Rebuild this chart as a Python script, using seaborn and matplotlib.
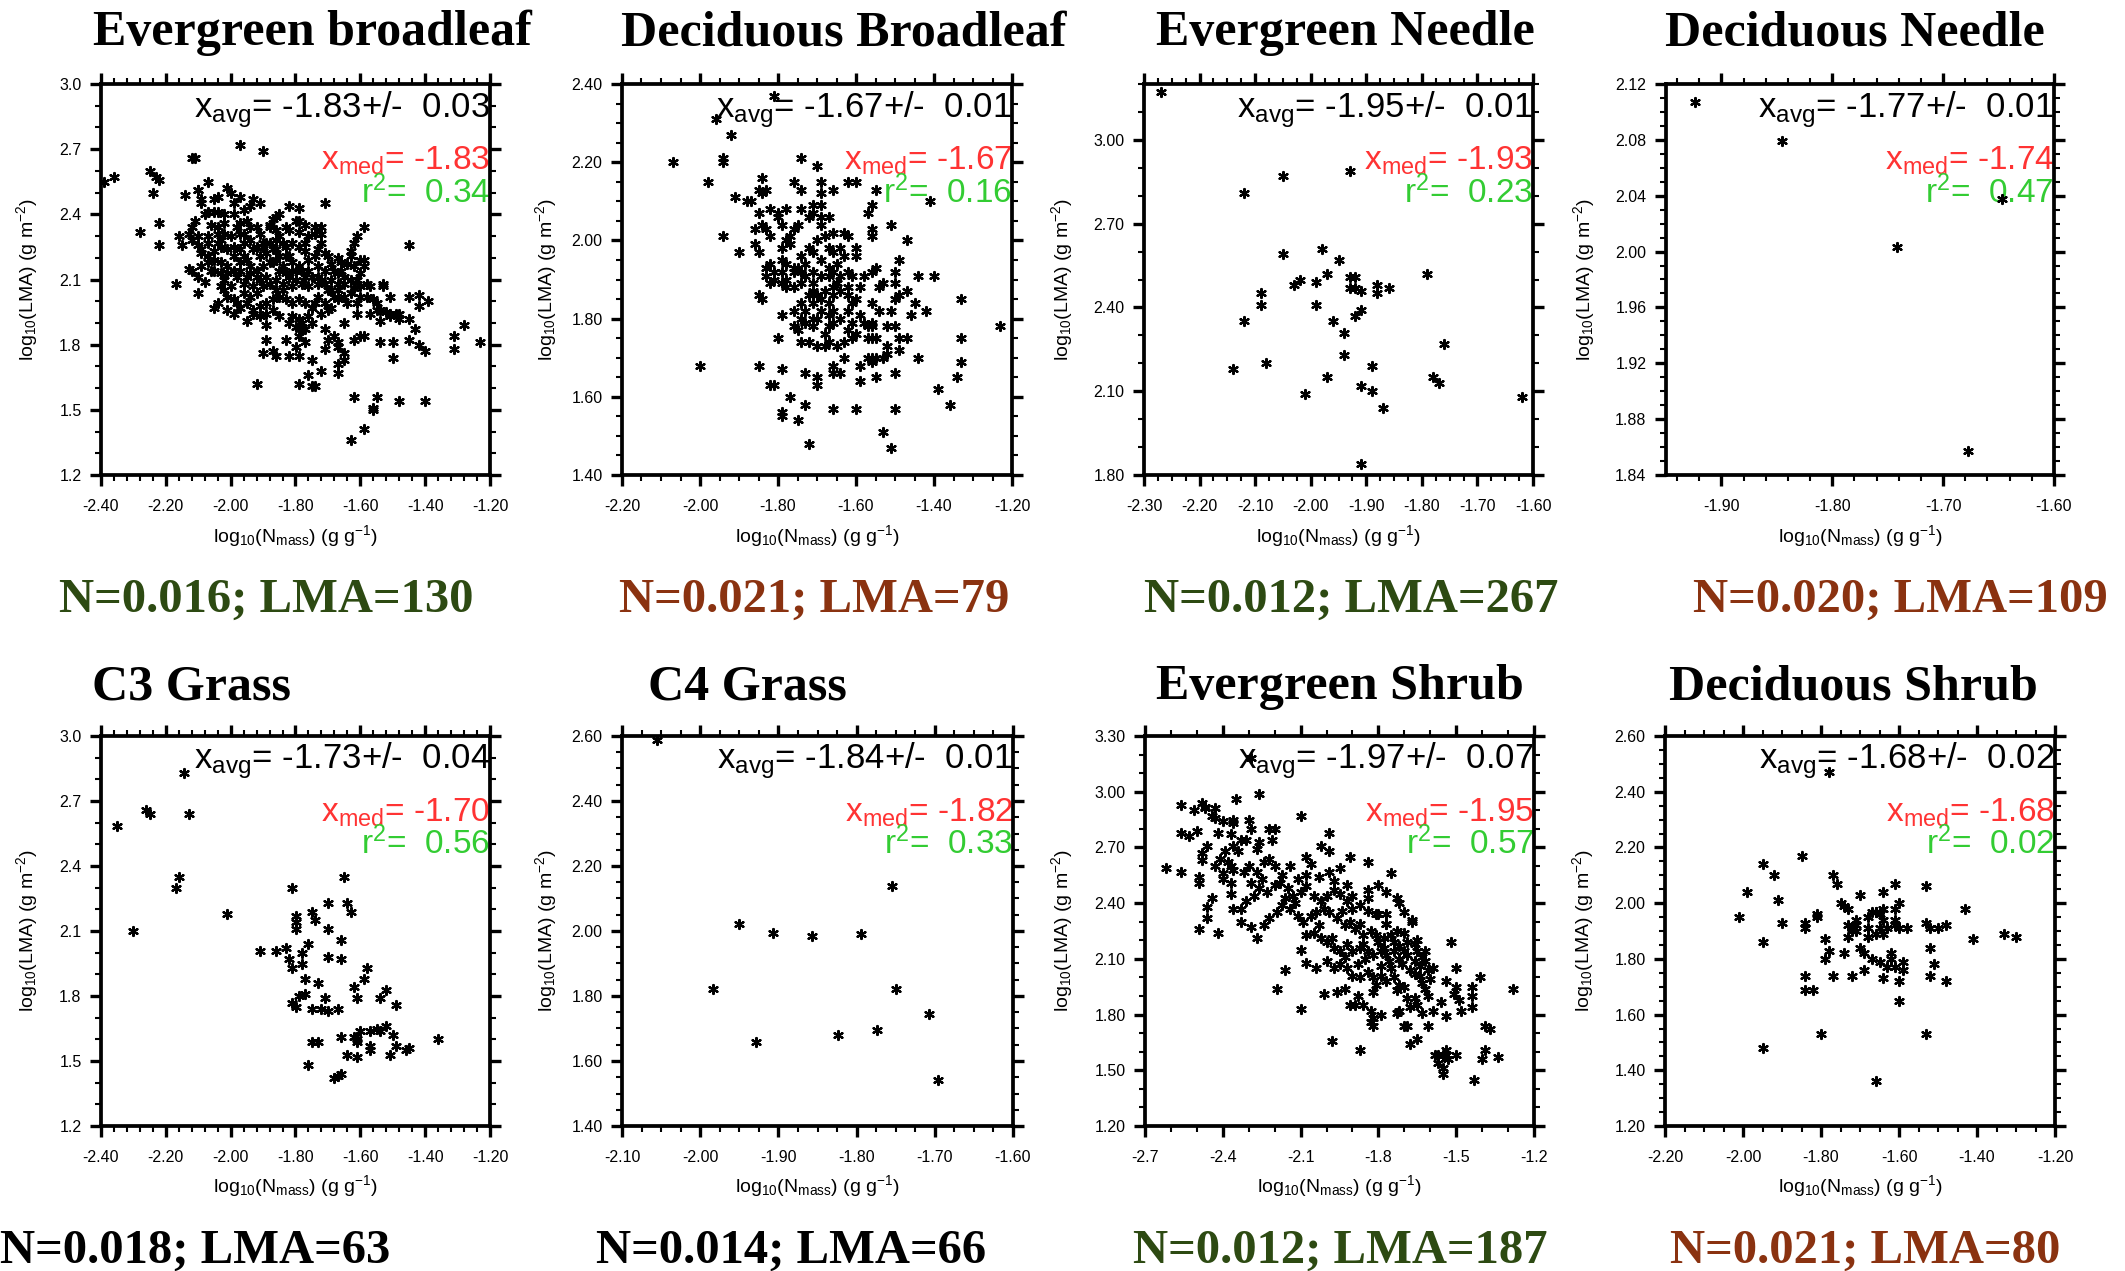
import numpy as np
import pandas as pd
import matplotlib
matplotlib.use("Agg")
import matplotlib.pyplot as plt
import seaborn as sns
from matplotlib.ticker import MultipleLocator, AutoMinorLocator, FormatStrFormatter

sns.set_theme(style="ticks")
plt.rcParams["font.family"] = ["Liberation Sans", "DejaVu Sans"]
plt.rcParams["mathtext.fontset"] = "custom"
plt.rcParams["mathtext.rm"] = "Liberation Sans"
plt.rcParams["mathtext.it"] = "Liberation Sans:italic"
plt.rcParams["mathtext.bf"] = "Liberation Sans:bold"

# ---------------------------------------------------------------- data
titles = ["Evergreen broadleaf", "Deciduous Broadleaf", "Evergreen Needle", "Deciduous Needle",
          "C3 Grass", "C4 Grass", "Evergreen Shrub", "Deciduous Shrub"]
x_avg = ["-1.83", "-1.67", "-1.95", "-1.77", "-1.73", "-1.84", "-1.97", "-1.68"]
x_err = ["0.03", "0.01", "0.01", "0.01", "0.04", "0.01", "0.07", "0.02"]
x_med = ["-1.83", "-1.67", "-1.93", "-1.74", "-1.70", "-1.82", "-1.95", "-1.68"]
r_sq = ["0.34", "0.16", "0.23", "0.47", "0.56", "0.33", "0.57", "0.02"]
n_opt = ["0.016", "0.021", "0.012", "0.020", "0.018", "0.014", "0.012", "0.021"]
lma_opt = ["130", "79", "267", "109", "63", "66", "187", "80"]

# log10(Nmass), log10(LMA) pairs for each plant functional type
evergreen_broadleaf = [
    (-2.39, 2.55), (-2.36, 2.57), (-2.28, 2.32), (-2.25, 2.60), (-2.24, 2.50), (-2.23, 2.57), (-2.22, 2.56),
    (-2.22, 2.36), (-2.22, 2.26), (-2.17, 2.08), (-2.16, 2.30), (-2.15, 2.26), (-2.14, 2.49), (-2.12, 2.66),
    (-2.11, 2.66), (-2.13, 2.31), (-2.10, 2.04), (-2.10, 2.51), (-2.07, 2.55), (-2.05, 1.97), (-1.97, 2.72),
    (-1.90, 2.69), (-1.92, 1.62), (-1.71, 2.45), (-1.45, 2.26), (-1.63, 1.36), (-1.59, 1.41), (-1.62, 1.56),
    (-1.55, 1.56), (-1.56, 1.51), (-1.56, 1.50), (-1.48, 1.54), (-1.40, 1.54), (-1.31, 1.84), (-1.31, 1.78),
    (-1.28, 1.89), (-1.23, 1.81), (-1.40, 1.77), (-1.50, 1.74), (-1.50, 1.81), (-1.54, 1.81), (-1.39, 2.00),
    (-1.42, 2.03), (-1.45, 2.02), (-1.42, 1.98), (-1.43, 1.87), (-1.45, 1.82), (-1.42, 1.80), (-1.51, 2.02),
    (-1.48, 1.94), (-1.45, 1.92), (-1.59, 2.34), (-1.61, 2.30), (-1.62, 2.27), (-1.59, 2.19), (-1.59, 2.16),
    (-1.62, 2.16), (-1.64, 2.17), (-1.53, 2.08), (-1.53, 2.07), (-1.57, 2.07), (-1.58, 2.02), (-1.60, 2.02),
    (-1.61, 1.99), (-1.63, 2.10), (-1.61, 1.94), (-1.57, 1.94), (-1.54, 1.91), (-1.51, 1.93), (-1.60, 1.84),
    (-1.59, 1.84), (-1.62, 1.82), (-1.67, 1.81), (-1.67, 1.79), (-1.65, 1.76), (-1.67, 1.71), (-1.67, 1.67),
    (-1.65, 1.73), (-1.72, 1.68), (-1.75, 1.73), (-1.76, 1.66), (-1.75, 1.61), (-1.74, 1.61), (-1.79, 1.62),
    (-1.79, 1.75), (-1.82, 1.75), (-1.86, 1.75), (-1.90, 1.76), (-1.87, 1.77), (-1.89, 1.82), (-1.83, 1.82),
    (-1.80, 1.79), (-1.79, 1.84), (-1.77, 1.81), (-1.89, 1.89), (-1.95, 1.91), (-1.79, 1.88), (-1.78, 1.87),
    (-1.71, 1.78), (-1.70, 1.82), (-1.68, 1.84), (-1.75, 1.97), (-1.65, 1.90), (-1.71, 1.87), (-1.70, 1.96),
    (-2.10, 2.51), (-2.09, 2.47), (-2.09, 2.45), (-2.05, 2.47), (-2.04, 2.48), (-2.01, 2.52), (-2.00, 2.50),
    (-1.99, 2.45), (-1.97, 2.48), (-1.96, 2.42), (-1.94, 2.44), (-1.93, 2.47), (-1.91, 2.45), (-2.08, 2.40),
    (-2.07, 2.41), (-2.05, 2.41), (-2.04, 2.41), (-2.02, 2.40), (-1.99, 2.40), (-2.06, 2.35), (-2.04, 2.34),
    (-2.02, 2.36), (-2.11, 2.37), (-2.12, 2.34), (-2.10, 2.26), (-2.10, 2.30), (-2.09, 2.22), (-2.07, 2.30),
    (-2.07, 2.27), (-2.05, 2.23), (-2.04, 2.31), (-2.03, 2.28), (-2.02, 2.31), (-2.00, 2.30), (-1.98, 2.34),
    (-1.97, 2.36), (-1.97, 2.31), (-1.96, 2.27), (-1.95, 2.37), (-1.94, 2.34), (-1.92, 2.34), (-1.91, 2.31),
    (-1.90, 2.27), (-1.89, 2.27), (-1.88, 2.35), (-1.87, 2.38), (-1.86, 2.39), (-1.85, 2.40), (-1.83, 2.34),
    (-1.82, 2.44), (-1.79, 2.43), (-1.80, 2.37), (-1.79, 2.32), (-1.76, 2.30), (-1.74, 2.31), (-1.72, 2.34),
    (-1.72, 2.27), (-1.73, 2.24), (-1.74, 2.21), (-1.71, 2.22), (-1.70, 2.21), (-1.69, 2.17), (-1.67, 2.20),
    (-1.66, 2.14), (-1.67, 2.13), (-1.69, 2.10), (-1.71, 2.14), (-1.73, 2.16), (-1.76, 2.19), (-1.77, 2.23),
    (-1.77, 2.27), (-1.79, 2.25), (-1.81, 2.27), (-1.83, 2.25), (-1.85, 2.30), (-1.86, 2.28), (-1.87, 2.24),
    (-1.89, 2.22), (-1.91, 2.21), (-1.93, 2.24), (-1.95, 2.19), (-1.97, 2.18), (-1.99, 2.21), (-2.01, 2.16),
    (-2.03, 2.13), (-2.05, 2.14), (-2.07, 2.18), (-2.09, 2.16), (-2.12, 2.14), (-2.13, 2.15), (-2.10, 2.11),
    (-2.08, 2.09), (-2.02, 2.10), (-2.00, 2.07), (-1.98, 2.11), (-1.96, 2.08), (-1.94, 2.13), (-1.92, 2.14),
    (-1.90, 2.16), (-1.88, 2.18), (-1.86, 2.19), (-1.84, 2.16), (-1.82, 2.21), (-1.81, 2.14), (-1.79, 2.16),
    (-1.77, 2.11), (-1.75, 2.11), (-1.72, 2.10), (-1.70, 2.05), (-1.68, 2.02), (-1.67, 2.01), (-1.69, 1.97),
    (-1.71, 1.99), (-1.73, 2.02), (-1.76, 2.07), (-1.78, 2.08), (-1.80, 2.10), (-1.82, 2.11), (-1.84, 2.08),
    (-1.86, 2.05), (-1.88, 2.08), (-1.90, 2.07), (-1.92, 2.04), (-1.94, 2.02), (-1.96, 2.04), (-1.98, 1.99),
    (-1.99, 2.01), (-2.01, 2.02), (-2.02, 2.05), (-2.03, 2.07), (-2.04, 1.99), (-2.01, 1.96), (-1.99, 1.94),
    (-1.97, 1.97), (-1.95, 1.99), (-1.93, 1.96), (-1.91, 1.98), (-1.89, 1.99), (-1.87, 2.01), (-1.85, 2.02),
    (-1.83, 2.01), (-1.81, 1.99), (-1.79, 2.01), (-1.77, 1.99), (-1.74, 1.99), (-1.72, 1.94), (-1.81, 1.93),
    (-1.82, 1.90), (-1.80, 1.88), (-1.78, 1.90), (-1.85, 1.93), (-1.87, 1.96), (-1.89, 1.94), (-1.91, 1.93),
    (-1.93, 1.94), (-1.65, 2.02), (-1.64, 1.99), (-1.65, 2.08), (-1.63, 2.04), (-1.62, 2.06), (-1.61, 2.10),
    (-1.60, 2.07), (-1.60, 2.13), (-1.58, 2.08), (-1.56, 2.01), (-1.55, 1.99), (-1.55, 1.96), (-1.54, 1.96),
    (-1.52, 1.95), (-1.51, 1.94), (-1.49, 1.94), (-1.48, 1.92), (-1.63, 2.21), (-1.63, 2.23), (-1.60, 2.19),
    (-1.66, 2.18), (-1.68, 2.14), (-1.65, 2.11), (-1.67, 2.05), (-1.69, 2.05), (-1.71, 2.08), (-1.73, 2.08),
    (-1.81, 2.07), (-1.84, 2.05), (-1.86, 2.10), (-1.89, 2.11), (-1.91, 2.10), (-1.93, 2.07), (-1.95, 2.11),
    (-1.97, 2.14), (-1.99, 2.14), (-2.01, 2.13), (-2.03, 2.18), (-2.05, 2.19), (-2.07, 2.21), (-2.09, 2.24),
    (-2.12, 2.28), (-2.06, 2.14), (-1.88, 2.34), (-1.86, 2.33), (-1.84, 2.27), (-1.82, 2.33), (-1.79, 2.37),
    (-1.77, 2.35), (-1.74, 2.34), (-1.72, 2.31), (-1.83, 2.21), (-1.85, 2.21), (-1.87, 2.18), (-1.92, 2.11),
    (-1.94, 2.16), (-1.96, 2.21), (-1.97, 2.24), (-1.99, 2.25), (-2.01, 2.24), (-2.03, 2.25), (-2.04, 2.27),
    (-1.96, 2.31), (-1.94, 2.28), (-1.92, 2.25), (-1.90, 2.25), (-1.88, 2.27), (-1.86, 2.24), (-1.85, 2.14),
    (-1.83, 2.13), (-1.81, 2.18), (-1.80, 2.14), (-1.78, 2.14), (-1.76, 2.14), (-1.73, 2.11), (-1.67, 2.08),
    (-1.76, 1.93), (-1.75, 1.90), (-1.79, 1.92), (-1.77, 1.87),
]

deciduous_broadleaf = [
    (-1.81, 2.37), (-1.96, 2.31), (-1.92, 2.27), (-2.07, 2.20), (-1.98, 2.15), (-1.94, 2.21), (-1.94, 2.20),
    (-1.91, 2.11), (-1.88, 2.10), (-1.87, 2.10), (-1.94, 2.01), (-1.90, 1.97), (-2.00, 1.68), (-1.85, 1.68),
    (-1.84, 2.16), (-1.85, 2.13), (-1.84, 2.12), (-1.83, 2.13), (-1.74, 2.21), (-1.70, 2.19), (-1.76, 2.15),
    (-1.74, 2.13), (-1.69, 2.15), (-1.69, 2.12), (-1.66, 2.13), (-1.62, 2.15), (-1.60, 2.15), (-1.55, 2.13),
    (-1.56, 2.09), (-1.41, 2.10), (-1.57, 2.07), (-1.51, 2.04), (-1.47, 2.00), (-1.56, 2.03), (-1.56, 2.01),
    (-1.49, 1.95), (-1.44, 1.91), (-1.40, 1.91), (-1.33, 1.85), (-1.33, 1.75), (-1.33, 1.69), (-1.34, 1.65),
    (-1.23, 1.78), (-1.39, 1.62), (-1.36, 1.58), (-1.42, 1.82), (-1.44, 1.70), (-1.47, 1.75), (-1.46, 1.81),
    (-1.45, 1.84), (-1.47, 1.87), (-1.50, 1.92), (-1.50, 1.89), (-1.49, 1.86), (-1.49, 1.75), (-1.49, 1.72),
    (-1.50, 1.66), (-1.50, 1.57), (-1.51, 1.47), (-1.53, 1.51), (-1.60, 1.57), (-1.66, 1.57), (-1.72, 1.48),
    (-1.73, 1.58), (-1.75, 1.54), (-1.77, 1.60), (-1.79, 1.55), (-1.79, 1.56), (-1.82, 1.63), (-1.81, 1.63),
    (-1.79, 1.67), (-1.80, 1.75), (-1.79, 1.81), (-1.85, 1.86), (-1.84, 1.85), (-1.73, 1.66), (-1.70, 1.65),
    (-1.70, 1.63), (-1.66, 1.68), (-1.66, 1.66), (-1.64, 1.66), (-1.63, 1.70), (-1.59, 1.68), (-1.59, 1.64),
    (-1.55, 1.65), (-1.55, 1.70), (-1.55, 1.75), (-1.52, 1.73), (-1.52, 1.71), (-1.53, 1.70), (-1.52, 1.78),
    (-1.50, 1.78), (-1.51, 1.82), (-1.50, 1.85), (-1.54, 1.82), (-1.56, 1.79), (-1.56, 1.84), (-1.54, 1.88),
    (-1.53, 1.89), (-1.56, 1.92), (-1.55, 1.93), (-1.60, 1.96), (-1.58, 1.91), (-1.59, 1.88), (-1.60, 1.85),
    (-1.59, 1.81), (-1.61, 1.79), (-1.62, 1.77), (-1.63, 1.74), (-1.65, 1.73), (-1.67, 1.74), (-1.68, 1.73),
    (-1.70, 1.73), (-1.72, 1.74), (-1.74, 1.74), (-1.75, 1.77), (-1.76, 1.78), (-1.74, 1.80), (-1.76, 1.82),
    (-1.74, 1.84), (-1.73, 1.82), (-1.71, 1.84), (-1.69, 1.85), (-1.67, 1.84), (-1.66, 1.86), (-1.64, 1.87),
    (-1.62, 1.88), (-1.61, 1.91), (-1.62, 1.92), (-1.64, 1.91), (-1.66, 1.92), (-1.67, 1.93), (-1.69, 1.95),
    (-1.71, 1.97), (-1.72, 1.98), (-1.70, 2.00), (-1.68, 2.01), (-1.66, 2.02), (-1.63, 2.02), (-1.62, 2.01),
    (-1.60, 1.98), (-1.64, 1.98), (-1.66, 1.97), (-1.67, 1.98), (-1.69, 2.04), (-1.67, 2.06), (-1.69, 2.06),
    (-1.71, 2.07), (-1.72, 2.06), (-1.71, 2.09), (-1.69, 2.09), (-1.74, 2.08), (-1.75, 2.04), (-1.76, 2.03),
    (-1.77, 2.01), (-1.78, 2.00), (-1.77, 1.99), (-1.79, 2.04), (-1.80, 2.07), (-1.78, 2.08), (-1.80, 2.06),
    (-1.82, 2.08), (-1.84, 2.04), (-1.83, 2.03), (-1.82, 2.01), (-1.85, 2.07), (-1.86, 1.99), (-1.85, 1.97),
    (-1.86, 2.03), (-1.79, 1.98), (-1.79, 1.95), (-1.78, 1.94), (-1.76, 1.93), (-1.82, 1.94), (-1.83, 1.93),
    (-1.81, 1.92), (-1.79, 1.92), (-1.78, 1.90), (-1.76, 1.92), (-1.74, 1.92), (-1.73, 1.91), (-1.71, 1.89),
    (-1.74, 1.89), (-1.76, 1.88), (-1.78, 1.88), (-1.79, 1.89), (-1.81, 1.90), (-1.82, 1.89), (-1.83, 1.91),
    (-1.72, 1.86), (-1.71, 1.87), (-1.70, 1.86), (-1.68, 1.87), (-1.66, 1.88), (-1.65, 1.89), (-1.73, 1.94),
    (-1.74, 1.96), (-1.75, 1.93), (-1.71, 1.92), (-1.69, 1.91), (-1.67, 1.91), (-1.65, 1.94), (-1.63, 1.96),
    (-1.69, 1.82), (-1.67, 1.81), (-1.66, 1.82), (-1.64, 1.80), (-1.66, 1.79), (-1.67, 1.78), (-1.68, 1.76),
    (-1.71, 1.78), (-1.73, 1.79), (-1.62, 1.82), (-1.61, 1.84), (-1.62, 1.86), (-1.58, 1.79), (-1.57, 1.78),
    (-1.60, 1.76), (-1.57, 1.75), (-1.56, 1.78), (-1.56, 1.75), (-1.56, 1.70), (-1.56, 1.69), (-1.57, 1.70),
    (-1.61, 1.75), (-1.71, 1.80), (-1.70, 1.80),
]

evergreen_needle = [
    (-2.27, 3.17), (-2.12, 2.81), (-2.05, 2.87), (-1.93, 2.89), (-2.05, 2.59), (-1.98, 2.61), (-1.95, 2.57),
    (-1.97, 2.52), (-1.99, 2.49), (-2.02, 2.50), (-2.03, 2.48), (-1.93, 2.51), (-1.92, 2.51), (-1.93, 2.47),
    (-1.92, 2.47), (-1.91, 2.46), (-1.88, 2.48), (-1.88, 2.45), (-1.86, 2.47), (-1.79, 2.52), (-2.09, 2.45),
    (-2.09, 2.41), (-1.99, 2.41), (-1.91, 2.39), (-1.92, 2.37), (-2.12, 2.35), (-1.96, 2.35), (-1.94, 2.31),
    (-1.76, 2.27), (-1.94, 2.23), (-2.14, 2.18), (-2.08, 2.20), (-1.89, 2.19), (-1.97, 2.15), (-1.78, 2.15),
    (-1.77, 2.13), (-1.91, 2.12), (-2.01, 2.09), (-1.89, 2.10), (-1.87, 2.04), (-1.62, 2.08), (-1.91, 1.84),
]

deciduous_needle = [
    (-1.924, 2.107), (-1.845, 2.079), (-1.742, 2.003), (-1.647, 2.038), (-1.678, 1.857),
]

c3_grass = [
    (-2.35, 2.585), (-2.30, 2.10), (-2.26, 2.66), (-2.25, 2.64), (-2.145, 2.83), (-2.13, 2.64), (-2.17, 2.30),
    (-2.16, 2.35), (-2.01, 2.18), (-1.91, 2.01), (-1.86, 2.01), (-1.83, 2.02), (-1.82, 1.97), (-1.81, 1.93),
    (-1.81, 2.30), (-1.80, 2.17), (-1.80, 2.14), (-1.80, 2.11), (-1.78, 2.00), (-1.78, 1.95), (-1.76, 2.04),
    (-1.75, 2.19), (-1.74, 2.15), (-1.70, 2.23), (-1.70, 2.11), (-1.70, 1.98), (-1.66, 1.97), (-1.66, 2.06),
    (-1.65, 2.35), (-1.64, 2.23), (-1.63, 2.19), (-1.77, 1.88), (-1.73, 1.86), (-1.77, 1.81), (-1.79, 1.80),
    (-1.81, 1.77), (-1.80, 1.75), (-1.75, 1.74), (-1.72, 1.74), (-1.70, 1.73), (-1.71, 1.79), (-1.67, 1.74),
    (-1.58, 1.93), (-1.59, 1.88), (-1.62, 1.84), (-1.61, 1.79), (-1.54, 1.79), (-1.52, 1.83), (-1.49, 1.76),
    (-1.75, 1.59), (-1.73, 1.59), (-1.76, 1.48), (-1.68, 1.42), (-1.67, 1.43), (-1.66, 1.44), (-1.66, 1.61),
    (-1.64, 1.53), (-1.61, 1.52), (-1.62, 1.61), (-1.61, 1.60), (-1.61, 1.59), (-1.60, 1.64), (-1.57, 1.57),
    (-1.57, 1.55), (-1.57, 1.64), (-1.55, 1.65), (-1.54, 1.64), (-1.52, 1.66), (-1.51, 1.53), (-1.50, 1.62),
    (-1.49, 1.57), (-1.46, 1.55), (-1.45, 1.56), (-1.36, 1.60),
]

c4_grass = [
    (-2.055, 2.587), (-1.983, 1.823), (-1.951, 2.023), (-1.929, 1.658), (-1.907, 1.993), (-1.857, 1.985),
    (-1.824, 1.681), (-1.794, 1.990), (-1.774, 1.694), (-1.755, 2.138), (-1.750, 1.823), (-1.708, 1.745),
    (-1.696, 1.541),
]

evergreen_shrub = [
    (-2.29, 3.18), (-2.26, 2.99), (-2.35, 2.96), (-2.56, 2.93), (-2.48, 2.94), (-2.47, 2.92), (-2.51, 2.90),
    (-2.47, 2.91), (-2.43, 2.91), (-2.44, 2.87), (-2.43, 2.86), (-2.40, 2.84), (-2.36, 2.85), (-2.36, 2.83),
    (-2.30, 2.85), (-2.29, 2.80), (-2.10, 2.87), (-2.56, 2.78), (-2.53, 2.76), (-2.50, 2.79), (-2.42, 2.78),
    (-2.37, 2.77), (-2.22, 2.80), (-2.20, 2.80), (-2.21, 2.74), (-1.99, 2.78), (-2.62, 2.59), (-2.56, 2.57),
    (-2.48, 2.67), (-2.48, 2.63), (-2.46, 2.71), (-2.41, 2.64), (-2.39, 2.68), (-2.36, 2.71), (-2.33, 2.74),
    (-2.31, 2.74), (-2.34, 2.68), (-2.26, 2.73), (-2.27, 2.69), (-2.02, 2.71), (-1.99, 2.68), (-1.91, 2.65),
    (-1.84, 2.62), (-1.75, 2.56), (-2.08, 2.65), (-2.06, 2.61), (-2.49, 2.54), (-2.49, 2.51), (-2.46, 2.38),
    (-2.44, 2.43), (-2.46, 2.32), (-2.49, 2.26), (-2.42, 2.24), (-2.40, 2.56), (-2.40, 2.53), (-2.37, 2.60),
    (-2.36, 2.58), (-2.37, 2.51), (-2.37, 2.45), (-2.36, 2.37), (-2.32, 2.57), (-2.29, 2.51), (-2.27, 2.57),
    (-2.24, 2.62), (-2.22, 2.64), (-2.20, 2.60), (-2.17, 2.55), (-2.14, 2.60), (-2.11, 2.53), (-2.08, 2.55),
    (-2.03, 2.54), (-1.99, 2.57), (-1.95, 2.59), (-1.97, 2.52), (-1.92, 2.50), (-1.90, 2.44), (-1.84, 2.47),
    (-1.84, 2.43), (-1.80, 2.50), (-1.77, 2.46), (-1.73, 2.43), (-1.72, 2.40), (-1.70, 2.35), (-1.67, 2.30),
    (-1.70, 2.24), (-1.73, 2.25), (-1.77, 2.29), (-1.81, 2.34), (-1.84, 2.36), (-1.87, 2.39), (-1.90, 2.37),
    (-1.92, 2.41), (-1.95, 2.45), (-1.97, 2.47), (-2.00, 2.44), (-2.02, 2.41), (-2.05, 2.44), (-2.08, 2.49),
    (-2.10, 2.46), (-2.13, 2.44), (-2.15, 2.48), (-2.18, 2.51), (-2.20, 2.50), (-2.23, 2.46), (-2.26, 2.48),
    (-2.28, 2.44), (-2.31, 2.41), (-2.33, 2.37), (-2.33, 2.30), (-2.29, 2.27), (-2.27, 2.21), (-2.24, 2.28),
    (-2.22, 2.32), (-2.19, 2.35), (-2.17, 2.39), (-2.14, 2.37), (-2.11, 2.33), (-2.09, 2.30), (-2.06, 2.33),
    (-2.04, 2.35), (-2.01, 2.37), (-1.99, 2.35), (-1.96, 2.32), (-1.93, 2.28), (-1.91, 2.30), (-1.89, 2.26),
    (-1.86, 2.23), (-1.83, 2.25), (-1.81, 2.23), (-1.78, 2.21), (-1.75, 2.23), (-1.74, 2.19), (-1.72, 2.17),
    (-1.69, 2.19), (-1.66, 2.18), (-1.65, 2.14), (-1.62, 2.14), (-1.62, 2.09), (-1.64, 2.06), (-1.64, 2.01),
    (-1.61, 2.04), (-1.66, 2.09), (-1.69, 2.12), (-1.72, 2.10), (-1.74, 2.14), (-1.77, 2.12), (-1.79, 2.14),
    (-1.82, 2.12), (-1.84, 2.14), (-1.87, 2.16), (-1.90, 2.14), (-1.92, 2.18), (-1.95, 2.14), (-1.97, 2.16),
    (-2.00, 2.19), (-2.02, 2.21), (-2.05, 2.24), (-2.08, 2.23), (-2.10, 2.15), (-2.08, 2.08), (-2.04, 2.05),
    (-2.00, 2.09), (-1.97, 2.05), (-1.95, 2.07), (-1.92, 2.05), (-1.90, 2.01), (-1.87, 2.00), (-1.84, 2.03),
    (-1.82, 2.00), (-1.79, 2.01), (-1.77, 1.98), (-1.74, 2.00), (-1.72, 1.96), (-1.73, 1.93), (-1.70, 1.95),
    (-1.69, 1.89), (-1.66, 1.89), (-1.65, 1.85), (-1.68, 1.84), (-1.72, 1.82), (-1.70, 1.74), (-1.69, 1.74),
    (-1.68, 1.64), (-1.65, 1.67), (-1.61, 1.74), (-1.63, 1.81), (-1.61, 1.90), (-1.59, 1.82), (-1.56, 1.87),
    (-1.54, 1.98), (-1.54, 1.79), (-1.52, 2.19), (-1.50, 2.05), (-1.50, 1.95), (-1.51, 1.91), (-1.49, 1.88),
    (-1.48, 1.82), (-1.44, 1.95), (-1.44, 1.90), (-1.44, 1.84), (-1.41, 2.00), (-1.28, 1.94), (-1.39, 1.74),
    (-1.37, 1.72), (-1.39, 1.61), (-1.40, 1.56), (-1.34, 1.57), (-1.43, 1.45), (-1.50, 1.58), (-1.54, 1.61),
    (-1.53, 1.56), (-1.58, 1.58), (-1.57, 1.58), (-1.57, 1.54), (-1.55, 1.51), (-1.55, 1.48), (-1.55, 1.58),
    (-1.54, 1.58), (-1.87, 1.61), (-1.98, 1.66), (-2.10, 1.83), (-2.19, 1.94), (-2.16, 2.04), (-2.01, 1.91),
    (-1.96, 1.92), (-1.93, 1.94), (-1.91, 1.85), (-1.89, 1.85), (-1.88, 1.90), (-1.86, 1.85), (-1.83, 1.82),
    (-1.82, 1.78), (-1.83, 1.76), (-1.82, 1.74), (-1.79, 1.80), (-1.82, 1.92), (-1.81, 1.96), (-1.73, 1.81),
    (-1.67, 2.31), (-1.65, 2.20), (-1.77, 2.34), (-1.77, 2.29), (-1.80, 2.34),
    (-1.86, 2.18), (-1.85, 2.10), (-1.80, 2.19), (-1.78, 2.16), (-1.76, 2.09), (-1.71, 2.07), (-1.68, 2.04),
    (-1.66, 2.02), (-1.63, 1.97), (-1.62, 1.94), (-1.60, 1.99), (-1.59, 2.05), (-1.63, 2.11), (-1.70, 2.14),
    (-1.75, 2.05), (-1.79, 2.06), (-1.88, 2.07), (-1.93, 2.11), (-1.98, 2.21), (-2.03, 2.28), (-2.12, 2.40),
    (-2.16, 2.43), (-2.25, 2.53), (-2.30, 2.60), (-2.38, 2.62), (-2.43, 2.60), (-1.87, 2.29), (-1.94, 2.36),
]

deciduous_shrub = [
    (-1.78, 2.47), (-2.01, 1.95), (-1.99, 2.04), (-1.95, 2.14), (-1.95, 1.86), (-1.95, 1.48), (-1.92, 2.10),
    (-1.91, 2.01), (-1.90, 1.93), (-1.85, 2.17), (-1.84, 1.93), (-1.84, 1.91), (-1.84, 1.74), (-1.84, 1.69),
    (-1.82, 1.69), (-1.81, 1.96), (-1.81, 1.95), (-1.80, 1.53), (-1.79, 1.80), (-1.79, 1.87), (-1.78, 1.83),
    (-1.77, 2.10), (-1.76, 2.07), (-1.77, 1.74), (-1.75, 2.00), (-1.74, 1.99), (-1.73, 1.98), (-1.74, 1.82),
    (-1.72, 1.74), (-1.73, 1.88), (-1.73, 1.92), (-1.72, 1.91), (-1.71, 1.92), (-1.71, 1.90), (-1.72, 1.90),
    (-1.72, 1.91), (-1.71, 1.94), (-1.70, 2.03), (-1.70, 1.84), (-1.69, 1.76), (-1.69, 1.82), (-1.68, 1.95),
    (-1.68, 1.91), (-1.68, 1.88), (-1.67, 1.80), (-1.67, 1.97), (-1.66, 1.97), (-1.66, 1.97), (-1.65, 1.96),
    (-1.64, 2.04), (-1.64, 1.98), (-1.65, 1.91), (-1.66, 1.89), (-1.64, 1.94), (-1.64, 1.89), (-1.65, 1.79),
    (-1.66, 1.36), (-1.64, 1.73), (-1.63, 1.77), (-1.62, 1.82), (-1.62, 1.80), (-1.63, 1.91), (-1.61, 2.07),
    (-1.61, 1.98), (-1.61, 1.94), (-1.61, 1.92), (-1.60, 1.91), (-1.60, 2.00), (-1.61, 1.77), (-1.60, 1.72),
    (-1.60, 1.65), (-1.59, 1.76), (-1.59, 1.79), (-1.58, 1.91), (-1.53, 2.06), (-1.53, 1.53), (-1.53, 1.93),
    (-1.52, 1.84), (-1.52, 1.74), (-1.52, 1.91), (-1.51, 1.78), (-1.50, 1.91), (-1.48, 1.92), (-1.48, 1.72),
    (-1.43, 1.98), (-1.41, 1.87), (-1.33, 1.89), (-1.30, 1.88),
]

panel_points = [evergreen_broadleaf, deciduous_broadleaf, evergreen_needle, deciduous_needle,
                c3_grass, c4_grass, evergreen_shrub, deciduous_shrub]

# axis limits, major step, minor subdivisions and label format per panel
x_limits = [(-2.4, -1.2), (-2.2, -1.2), (-2.3, -1.6), (-1.95, -1.60),
            (-2.4, -1.2), (-2.1, -1.6), (-2.7, -1.2), (-2.2, -1.2)]
x_steps = [0.2, 0.2, 0.1, 0.1, 0.2, 0.1, 0.3, 0.2]
x_minor = [5, 4, 4, 5, 5, 4, 3, 4]
x_fmts = ["%.2f", "%.2f", "%.2f", "%.2f", "%.2f", "%.2f", "%.1f", "%.2f"]
y_limits = [(1.2, 3.0), (1.4, 2.4), (1.8, 3.2), (1.84, 2.12),
            (1.2, 3.0), (1.4, 2.6), (1.2, 3.3), (1.2, 2.6)]
y_steps = [0.3, 0.2, 0.3, 0.04, 0.3, 0.2, 0.3, 0.2]
y_minor = [3, 4, 3, 4, 3, 4, 3, 4]
y_fmts = ["%.1f", "%.2f", "%.2f", "%.2f", "%.1f", "%.2f", "%.2f", "%.2f"]

footer_colors = ["#2d4a12", "#8a3210", "#2d4a12", "#8a3210",
                 "black", "black", "#2d4a12", "#8a3210"]

# ---------------------------------------------------------------- layout (pixels)
W, H = 2125, 1271
boxes = [(101, 84, 490, 475), (622, 84, 1012, 475), (1144, 84, 1533, 475), (1666, 84, 2054, 475),
         (101, 736, 490, 1126), (622, 736, 1013, 1126), (1145, 736, 1534, 1126), (1665, 736, 2055, 1126)]
title_left = [93, 621, 1156, 1665, 92, 648, 1156, 1669]
title_base = [45, 45, 45, 45, 699, 699, 699, 699]
footer_center = [266, 814, 1351, 1900, 195, 791, 1340, 1865]
footer_base = [612, 612, 612, 612, 1263, 1263, 1263, 1263]
ylabel_right = [40, 559, 1075, 1597, 40, 559, 1075, 1596]

fig = plt.figure(figsize=(W / 100, H / 100), dpi=100)
fig.patch.set_facecolor("white")

xlabel = r"$\mathregular{log_{10}(N_{mass})\ (g\ g^{-1})}$"
ylabel = r"$\mathregular{log_{10}(LMA)\ (g\ m^{-2})}$"

for i in range(8):
    l, t, r, b = boxes[i]
    ax = fig.add_axes([l / W, 1 - b / H, (r - l) / W, (b - t) / H])
    ax.set_facecolor("white")
    df = pd.DataFrame(panel_points[i], columns=["nmass", "lma"])
    sns.scatterplot(data=df, x="nmass", y="lma", ax=ax, marker=(6, 2, 0), s=42,
                    color="black", linewidth=1.6, legend=False, zorder=3)

    ax.set_xlim(*x_limits[i])
    ax.set_ylim(*y_limits[i])
    ax.xaxis.set_major_locator(MultipleLocator(x_steps[i]))
    ax.xaxis.set_minor_locator(AutoMinorLocator(x_minor[i]))
    ax.xaxis.set_major_formatter(FormatStrFormatter(x_fmts[i]))
    ax.yaxis.set_major_locator(MultipleLocator(y_steps[i]))
    ax.yaxis.set_minor_locator(AutoMinorLocator(y_minor[i]))
    ax.yaxis.set_major_formatter(FormatStrFormatter(y_fmts[i]))
    ax.grid(False)

    for sp in ax.spines.values():
        sp.set_visible(True)
        sp.set_linewidth(2.7)
        sp.set_color("black")
        sp.set_zorder(4)
    ax.tick_params(which="both", direction="out", top=True, right=True,
                   labeltop=False, labelright=False, colors="black")
    ax.tick_params(axis="x", which="major", length=8, width=2.4, labelsize=11.5, pad=9)
    ax.tick_params(axis="y", which="major", length=8, width=2.4, labelsize=11.5, pad=6)
    ax.tick_params(which="minor", length=4, width=1.5)

    ax.set_xlabel(xlabel, fontsize=14, color="black")
    ax.set_ylabel(ylabel, fontsize=14, color="black")
    ax.xaxis.set_label_coords(0.5, -0.122)
    ax.yaxis.set_label_coords((ylabel_right[i] - l) / (r - l), 0.5)

    # statistics printed in the upper-right corner
    ax.text(1.0, 0.916, r"$\mathregular{x_{avg}}$= " + x_avg[i] + "+/-  " + x_err[i],
            transform=ax.transAxes, ha="right", va="baseline", fontsize=25,
            color="black", zorder=1)
    ax.text(1.0, 0.78, r"$\mathregular{x_{med}}$= " + x_med[i],
            transform=ax.transAxes, ha="right", va="baseline", fontsize=24,
            color="#ff3333", zorder=1)
    ax.text(1.0, 0.696, r"$\mathregular{r^2}$=  " + r_sq[i],
            transform=ax.transAxes, ha="right", va="baseline", fontsize=24,
            color="#33cc33", zorder=1)

    fig.text(title_left[i] / W, 1 - title_base[i] / H, titles[i], ha="left", va="baseline",
             fontsize=36, fontweight="bold", family=["Liberation Serif", "DejaVu Serif"],
             color="black")
    fig.text(footer_center[i] / W, 1 - footer_base[i] / H,
             "N=" + n_opt[i] + "; LMA=" + lma_opt[i], ha="center", va="baseline",
             fontsize=35, fontweight="bold", family=["Liberation Serif", "DejaVu Serif"],
             color=footer_colors[i])

fig.savefig("out.png", dpi=100, facecolor="white")
